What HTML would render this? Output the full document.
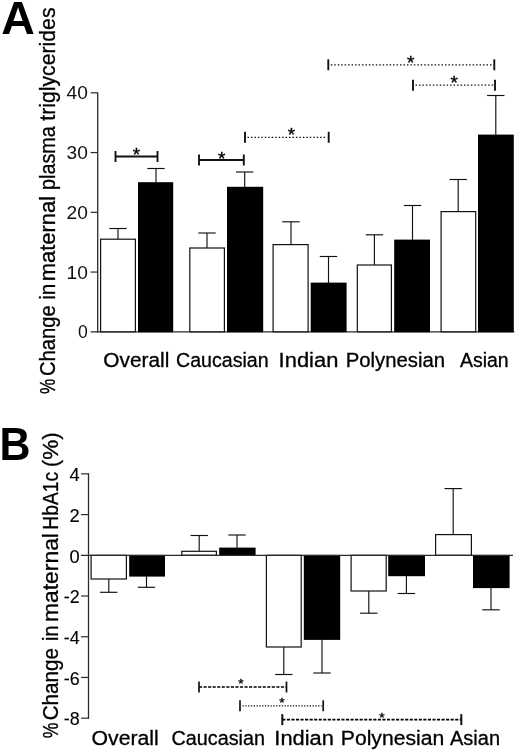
<!DOCTYPE html>
<html lang="en">
<head>
<meta charset="utf-8">
<title>Figure: % change in maternal plasma triglycerides and HbA1c by ethnicity</title>
<style>
html,body{margin:0;padding:0;background:#fff;}
body{width:520px;height:752px;overflow:hidden;}
svg{display:block;font-family:"Liberation Sans", sans-serif;}
</style>
</head>
<body>
<svg width="520" height="752" viewBox="0 0 520 752" font-family='"Liberation Sans", sans-serif'>
<rect x="0" y="0" width="520" height="752" fill="#fff"/>
<!-- Panel A -->
<text x="1.2" y="33.8" font-size="47" font-weight="700" textLength="33.6" lengthAdjust="spacingAndGlyphs">A</text>
<text transform="translate(55.2 393.90) rotate(-90)" font-size="21.6" textLength="15.18" lengthAdjust="spacingAndGlyphs" fill="#000" stroke="#000" stroke-width="0.3">%</text>
<text transform="translate(55.2 376.01) rotate(-90)" font-size="21.6" textLength="70.74" lengthAdjust="spacingAndGlyphs" fill="#000" stroke="#000" stroke-width="0.3">Change</text>
<text transform="translate(55.2 299.85) rotate(-90)" font-size="21.6" textLength="16.11" lengthAdjust="spacingAndGlyphs" fill="#000" stroke="#000" stroke-width="0.3">in</text>
<text transform="translate(55.2 281.23) rotate(-90)" font-size="21.6" textLength="85.39" lengthAdjust="spacingAndGlyphs" fill="#000" stroke="#000" stroke-width="0.3">maternal</text>
<text transform="translate(55.2 189.88) rotate(-90)" font-size="21.6" textLength="63.61" lengthAdjust="spacingAndGlyphs" fill="#000" stroke="#000" stroke-width="0.3">plasma</text>
<text transform="translate(55.2 120.72) rotate(-90)" font-size="21.6" textLength="113.26" lengthAdjust="spacingAndGlyphs" fill="#000" stroke="#000" stroke-width="0.3">triglycerides</text>
<line x1="97.7" y1="92.20" x2="97.7" y2="332.40" stroke="#2a2a2a" stroke-width="1.3"/>
<line x1="90.6" y1="331.8" x2="514.3" y2="331.8" stroke="#2a2a2a" stroke-width="1.3"/>
<text x="87.8" y="338.30" font-size="18" text-anchor="end" textLength="9.8" lengthAdjust="spacingAndGlyphs" fill="#111">0</text>
<line x1="90.6" y1="272.05" x2="97.7" y2="272.05" stroke="#2a2a2a" stroke-width="1.2"/>
<text x="87.8" y="278.55" font-size="18" text-anchor="end" textLength="21.3" lengthAdjust="spacingAndGlyphs" fill="#111">10</text>
<line x1="90.6" y1="212.30" x2="97.7" y2="212.30" stroke="#2a2a2a" stroke-width="1.2"/>
<text x="87.8" y="218.80" font-size="18" text-anchor="end" textLength="21.3" lengthAdjust="spacingAndGlyphs" fill="#111">20</text>
<line x1="90.6" y1="152.55" x2="97.7" y2="152.55" stroke="#2a2a2a" stroke-width="1.2"/>
<text x="87.8" y="159.05" font-size="18" text-anchor="end" textLength="21.3" lengthAdjust="spacingAndGlyphs" fill="#111">30</text>
<line x1="90.6" y1="92.80" x2="97.7" y2="92.80" stroke="#2a2a2a" stroke-width="1.2"/>
<text x="87.8" y="99.30" font-size="18" text-anchor="end" textLength="21.3" lengthAdjust="spacingAndGlyphs" fill="#111">40</text>
<line x1="118.0" y1="239.2" x2="118.0" y2="228.5" stroke="#111" stroke-width="1.15"/>
<line x1="109.3" y1="228.5" x2="126.7" y2="228.5" stroke="#111" stroke-width="1.15"/>
<rect x="100.60" y="239.20" width="34.80" height="92.60" fill="#fff" stroke="#111" stroke-width="1.2"/>
<line x1="156.0" y1="182.6" x2="156.0" y2="168.5" stroke="#111" stroke-width="1.15"/>
<line x1="147.3" y1="168.5" x2="164.7" y2="168.5" stroke="#111" stroke-width="1.15"/>
<rect x="138.00" y="182.20" width="35.20" height="150.00" fill="#000"/>
<line x1="207.0" y1="248.0" x2="207.0" y2="233.0" stroke="#111" stroke-width="1.15"/>
<line x1="198.3" y1="233.0" x2="215.7" y2="233.0" stroke="#111" stroke-width="1.15"/>
<rect x="189.80" y="248.00" width="34.60" height="83.80" fill="#fff" stroke="#111" stroke-width="1.2"/>
<line x1="244.7" y1="187.2" x2="244.7" y2="172.0" stroke="#111" stroke-width="1.15"/>
<line x1="236.0" y1="172.0" x2="253.39999999999998" y2="172.0" stroke="#111" stroke-width="1.15"/>
<rect x="227.00" y="186.80" width="36.20" height="145.40" fill="#000"/>
<line x1="291.0" y1="244.6" x2="291.0" y2="221.8" stroke="#111" stroke-width="1.15"/>
<line x1="282.3" y1="221.8" x2="299.7" y2="221.8" stroke="#111" stroke-width="1.15"/>
<rect x="273.10" y="244.60" width="35.00" height="87.20" fill="#fff" stroke="#111" stroke-width="1.2"/>
<line x1="328.5" y1="283.0" x2="328.5" y2="256.5" stroke="#111" stroke-width="1.15"/>
<line x1="319.8" y1="256.5" x2="337.2" y2="256.5" stroke="#111" stroke-width="1.15"/>
<rect x="310.70" y="282.60" width="35.90" height="49.60" fill="#000"/>
<line x1="374.4" y1="265.0" x2="374.4" y2="234.8" stroke="#111" stroke-width="1.15"/>
<line x1="365.7" y1="234.8" x2="383.09999999999997" y2="234.8" stroke="#111" stroke-width="1.15"/>
<rect x="357.30" y="265.00" width="34.10" height="66.80" fill="#fff" stroke="#111" stroke-width="1.2"/>
<line x1="412.5" y1="240.0" x2="412.5" y2="205.5" stroke="#111" stroke-width="1.15"/>
<line x1="403.8" y1="205.5" x2="421.2" y2="205.5" stroke="#111" stroke-width="1.15"/>
<rect x="394.20" y="239.60" width="35.80" height="92.60" fill="#000"/>
<line x1="458.2" y1="211.6" x2="458.2" y2="179.5" stroke="#111" stroke-width="1.15"/>
<line x1="449.5" y1="179.5" x2="466.9" y2="179.5" stroke="#111" stroke-width="1.15"/>
<rect x="441.10" y="211.60" width="34.60" height="120.20" fill="#fff" stroke="#111" stroke-width="1.2"/>
<line x1="495.8" y1="135.0" x2="495.8" y2="95.5" stroke="#111" stroke-width="1.15"/>
<line x1="487.1" y1="95.5" x2="504.5" y2="95.5" stroke="#111" stroke-width="1.15"/>
<rect x="478.00" y="134.60" width="35.80" height="197.60" fill="#000"/>
<line x1="115.5" y1="156.5" x2="157.5" y2="156.5" stroke="#111" stroke-width="1.9"/>
<line x1="115.5" y1="151.0" x2="115.5" y2="162.0" stroke="#111" stroke-width="1.9"/>
<line x1="157.5" y1="151.0" x2="157.5" y2="162.0" stroke="#111" stroke-width="1.9"/>
<text x="136.4" y="161.23" font-size="19" text-anchor="middle" fill="#000" stroke="#000" stroke-width="0.35">*</text>
<line x1="199" y1="160" x2="243.8" y2="160" stroke="#111" stroke-width="1.9"/>
<line x1="199" y1="154.5" x2="199" y2="165.5" stroke="#111" stroke-width="1.9"/>
<line x1="243.8" y1="154.5" x2="243.8" y2="165.5" stroke="#111" stroke-width="1.9"/>
<text x="221.6" y="164.53" font-size="19" text-anchor="middle" fill="#000" stroke="#000" stroke-width="0.35">*</text>
<line x1="247.5" y1="137.3" x2="327.2" y2="137.3" stroke="#111" stroke-width="1.3" stroke-dasharray="1.5 1.96"/>
<line x1="245" y1="131.8" x2="245" y2="142.8" stroke="#111" stroke-width="1.9"/>
<line x1="328.7" y1="131.8" x2="328.7" y2="142.8" stroke="#111" stroke-width="1.9"/>
<text x="291.4" y="141.43" font-size="19" text-anchor="middle" fill="#000" stroke="#000" stroke-width="0.35">*</text>
<line x1="330.8" y1="64.8" x2="492.8" y2="64.8" stroke="#111" stroke-width="1.3" stroke-dasharray="1.5 1.96"/>
<line x1="328.3" y1="59.3" x2="328.3" y2="70.3" stroke="#111" stroke-width="1.9"/>
<line x1="494.3" y1="59.3" x2="494.3" y2="70.3" stroke="#111" stroke-width="1.9"/>
<text x="410.8" y="68.63" font-size="19" text-anchor="middle" fill="#000" stroke="#000" stroke-width="0.35">*</text>
<line x1="415.5" y1="85.2" x2="493.5" y2="85.2" stroke="#111" stroke-width="1.3" stroke-dasharray="1.5 1.96"/>
<line x1="413" y1="79.7" x2="413" y2="90.7" stroke="#111" stroke-width="1.9"/>
<line x1="495" y1="79.7" x2="495" y2="90.7" stroke="#111" stroke-width="1.9"/>
<text x="454.3" y="89.33" font-size="19" text-anchor="middle" fill="#000" stroke="#000" stroke-width="0.35">*</text>
<text x="103.36" y="366.6" font-size="19.6" textLength="65.93" lengthAdjust="spacingAndGlyphs" fill="#000" stroke="#000" stroke-width="0.3">Overall</text>
<text x="176.02" y="366.6" font-size="19.6" textLength="92.68" lengthAdjust="spacingAndGlyphs" fill="#000" stroke="#000" stroke-width="0.3">Caucasian</text>
<text x="278.63" y="366.6" font-size="19.6" textLength="59.71" lengthAdjust="spacingAndGlyphs" fill="#000" stroke="#000" stroke-width="0.3">Indian</text>
<text x="345.68" y="366.6" font-size="19.6" textLength="99.37" lengthAdjust="spacingAndGlyphs" fill="#000" stroke="#000" stroke-width="0.3">Polynesian</text>
<text x="460.00" y="366.6" font-size="19.6" textLength="48.69" lengthAdjust="spacingAndGlyphs" fill="#000" stroke="#000" stroke-width="0.3">Asian</text>
<!-- Panel B -->
<text x="-0.6" y="460" font-size="47" font-weight="700" textLength="31" lengthAdjust="spacingAndGlyphs">B</text>
<text transform="translate(58.2 738.31) rotate(-90)" font-size="21.9" textLength="15.61" lengthAdjust="spacingAndGlyphs" fill="#000" stroke="#000" stroke-width="0.3">%</text>
<text transform="translate(58.2 720.33) rotate(-90)" font-size="21.9" textLength="72.38" lengthAdjust="spacingAndGlyphs" fill="#000" stroke="#000" stroke-width="0.3">Change</text>
<text transform="translate(58.2 640.98) rotate(-90)" font-size="21.9" textLength="15.28" lengthAdjust="spacingAndGlyphs" fill="#000" stroke="#000" stroke-width="0.3">in</text>
<text transform="translate(58.2 621.99) rotate(-90)" font-size="21.9" textLength="88.91" lengthAdjust="spacingAndGlyphs" fill="#000" stroke="#000" stroke-width="0.3">maternal</text>
<text transform="translate(58.2 529.64) rotate(-90)" font-size="21.9" textLength="57.82" lengthAdjust="spacingAndGlyphs" fill="#000" stroke="#000" stroke-width="0.3">HbA1c</text>
<text transform="translate(58.2 467.25) rotate(-90)" font-size="21.9" textLength="35.06" lengthAdjust="spacingAndGlyphs" fill="#000" stroke="#000" stroke-width="0.3">(%)</text>
<line x1="88.5" y1="473.26" x2="88.5" y2="718.78" stroke="#2a2a2a" stroke-width="1.3"/>
<line x1="108.8" y1="579.0" x2="108.8" y2="592.3" stroke="#111" stroke-width="1.15"/>
<line x1="100.1" y1="592.3" x2="117.5" y2="592.3" stroke="#111" stroke-width="1.15"/>
<rect x="91.10" y="555.30" width="35.30" height="23.70" fill="#fff" stroke="#111" stroke-width="1.2"/>
<line x1="146.5" y1="576.2" x2="146.5" y2="587.3" stroke="#111" stroke-width="1.15"/>
<line x1="137.8" y1="587.3" x2="155.2" y2="587.3" stroke="#111" stroke-width="1.15"/>
<rect x="129.20" y="554.90" width="35.80" height="21.70" fill="#000"/>
<line x1="199.2" y1="551.3" x2="199.2" y2="535.5" stroke="#111" stroke-width="1.15"/>
<line x1="190.5" y1="535.5" x2="207.89999999999998" y2="535.5" stroke="#111" stroke-width="1.15"/>
<rect x="181.80" y="551.30" width="34.60" height="4.00" fill="#fff" stroke="#111" stroke-width="1.2"/>
<line x1="237.0" y1="548.0" x2="237.0" y2="535.0" stroke="#111" stroke-width="1.15"/>
<line x1="228.3" y1="535.0" x2="245.7" y2="535.0" stroke="#111" stroke-width="1.15"/>
<rect x="219.20" y="547.60" width="36.40" height="8.10" fill="#000"/>
<line x1="283.8" y1="647.0" x2="283.8" y2="674.5" stroke="#111" stroke-width="1.15"/>
<line x1="275.1" y1="674.5" x2="292.5" y2="674.5" stroke="#111" stroke-width="1.15"/>
<rect x="266.40" y="555.30" width="34.80" height="91.70" fill="#fff" stroke="#111" stroke-width="1.2"/>
<line x1="322.0" y1="639.5" x2="322.0" y2="673.0" stroke="#111" stroke-width="1.15"/>
<line x1="313.3" y1="673.0" x2="330.7" y2="673.0" stroke="#111" stroke-width="1.15"/>
<rect x="303.80" y="554.90" width="36.40" height="85.00" fill="#000"/>
<line x1="368.8" y1="591.0" x2="368.8" y2="613.2" stroke="#111" stroke-width="1.15"/>
<line x1="360.1" y1="613.2" x2="377.5" y2="613.2" stroke="#111" stroke-width="1.15"/>
<rect x="351.10" y="555.30" width="35.10" height="35.70" fill="#fff" stroke="#111" stroke-width="1.2"/>
<line x1="406.4" y1="575.8" x2="406.4" y2="593.5" stroke="#111" stroke-width="1.15"/>
<line x1="397.7" y1="593.5" x2="415.09999999999997" y2="593.5" stroke="#111" stroke-width="1.15"/>
<rect x="388.20" y="554.90" width="36.80" height="21.30" fill="#000"/>
<line x1="453.2" y1="534.6" x2="453.2" y2="488.6" stroke="#111" stroke-width="1.15"/>
<line x1="444.5" y1="488.6" x2="461.9" y2="488.6" stroke="#111" stroke-width="1.15"/>
<rect x="435.60" y="534.60" width="35.80" height="20.70" fill="#fff" stroke="#111" stroke-width="1.2"/>
<line x1="491.0" y1="587.7" x2="491.0" y2="609.8" stroke="#111" stroke-width="1.15"/>
<line x1="482.3" y1="609.8" x2="499.7" y2="609.8" stroke="#111" stroke-width="1.15"/>
<rect x="473.00" y="554.90" width="36.60" height="33.20" fill="#000"/>
<line x1="81" y1="555.3" x2="513" y2="555.3" stroke="#2a2a2a" stroke-width="1.3"/>
<line x1="81" y1="473.86" x2="88.5" y2="473.86" stroke="#2a2a2a" stroke-width="1.2"/>
<text x="79.6" y="481.16" font-size="17.5" text-anchor="end" textLength="10.2" lengthAdjust="spacingAndGlyphs" fill="#000" stroke="#000" stroke-width="0.12">4</text>
<line x1="81" y1="514.58" x2="88.5" y2="514.58" stroke="#2a2a2a" stroke-width="1.2"/>
<text x="79.6" y="521.88" font-size="17.5" text-anchor="end" textLength="10.2" lengthAdjust="spacingAndGlyphs" fill="#000" stroke="#000" stroke-width="0.12">2</text>
<text x="79.6" y="562.60" font-size="17.5" text-anchor="end" textLength="10.2" lengthAdjust="spacingAndGlyphs" fill="#000" stroke="#000" stroke-width="0.12">0</text>
<line x1="81" y1="596.02" x2="88.5" y2="596.02" stroke="#2a2a2a" stroke-width="1.2"/>
<text x="79.6" y="603.32" font-size="17.5" text-anchor="end" textLength="15.9" lengthAdjust="spacingAndGlyphs" fill="#000" stroke="#000" stroke-width="0.12">-2</text>
<line x1="81" y1="636.74" x2="88.5" y2="636.74" stroke="#2a2a2a" stroke-width="1.2"/>
<text x="79.6" y="644.04" font-size="17.5" text-anchor="end" textLength="15.9" lengthAdjust="spacingAndGlyphs" fill="#000" stroke="#000" stroke-width="0.12">-4</text>
<line x1="81" y1="677.46" x2="88.5" y2="677.46" stroke="#2a2a2a" stroke-width="1.2"/>
<text x="79.6" y="684.76" font-size="17.5" text-anchor="end" textLength="15.9" lengthAdjust="spacingAndGlyphs" fill="#000" stroke="#000" stroke-width="0.12">-6</text>
<line x1="81" y1="718.18" x2="88.5" y2="718.18" stroke="#2a2a2a" stroke-width="1.2"/>
<text x="79.6" y="725.48" font-size="17.5" text-anchor="end" textLength="15.9" lengthAdjust="spacingAndGlyphs" fill="#000" stroke="#000" stroke-width="0.12">-8</text>
<line x1="199" y1="687.0" x2="286.5" y2="687.0" stroke="#000" stroke-width="1.6" stroke-dasharray="3.1 1.45"/>
<line x1="199" y1="681.5" x2="199" y2="692.5" stroke="#111" stroke-width="1.7"/>
<line x1="286.5" y1="681.5" x2="286.5" y2="692.5" stroke="#111" stroke-width="1.7"/>
<text x="240.8" y="688.49" font-size="13.7" text-anchor="middle" fill="#000" stroke="#000" stroke-width="0.35">*</text>
<line x1="242.5" y1="705.8" x2="321.7" y2="705.8" stroke="#111" stroke-width="1.15" stroke-dasharray="1.3 1.5"/>
<line x1="240" y1="700.3" x2="240" y2="711.3" stroke="#111" stroke-width="1.7"/>
<line x1="323.2" y1="700.3" x2="323.2" y2="711.3" stroke="#111" stroke-width="1.7"/>
<text x="282" y="707.09" font-size="13.7" text-anchor="middle" fill="#000" stroke="#000" stroke-width="0.35">*</text>
<line x1="282.3" y1="719.6" x2="461.3" y2="719.6" stroke="#000" stroke-width="1.6" stroke-dasharray="3.1 1.45"/>
<line x1="282.3" y1="714.1" x2="282.3" y2="725.1" stroke="#111" stroke-width="2.0"/>
<line x1="461.3" y1="714.1" x2="461.3" y2="725.1" stroke="#111" stroke-width="2.0"/>
<text x="381.8" y="721.59" font-size="13.7" text-anchor="middle" fill="#000" stroke="#000" stroke-width="0.35">*</text>
<text x="91.54" y="745.4" font-size="20.0" textLength="67.28" lengthAdjust="spacingAndGlyphs" fill="#000" stroke="#000" stroke-width="0.3">Overall</text>
<text x="171.51" y="745.4" font-size="20.0" textLength="93.5" lengthAdjust="spacingAndGlyphs" fill="#000" stroke="#000" stroke-width="0.3">Caucasian</text>
<text x="274.33" y="745.4" font-size="20.0" textLength="59.5" lengthAdjust="spacingAndGlyphs" fill="#000" stroke="#000" stroke-width="0.3">Indian</text>
<text x="340.81" y="745.4" font-size="20.0" textLength="103.49" lengthAdjust="spacingAndGlyphs" fill="#000" stroke="#000" stroke-width="0.3">Polynesian</text>
<text x="450.00" y="745.4" font-size="20.0" textLength="50.02" lengthAdjust="spacingAndGlyphs" fill="#000" stroke="#000" stroke-width="0.3">Asian</text>
</svg>
</body>
</html>
